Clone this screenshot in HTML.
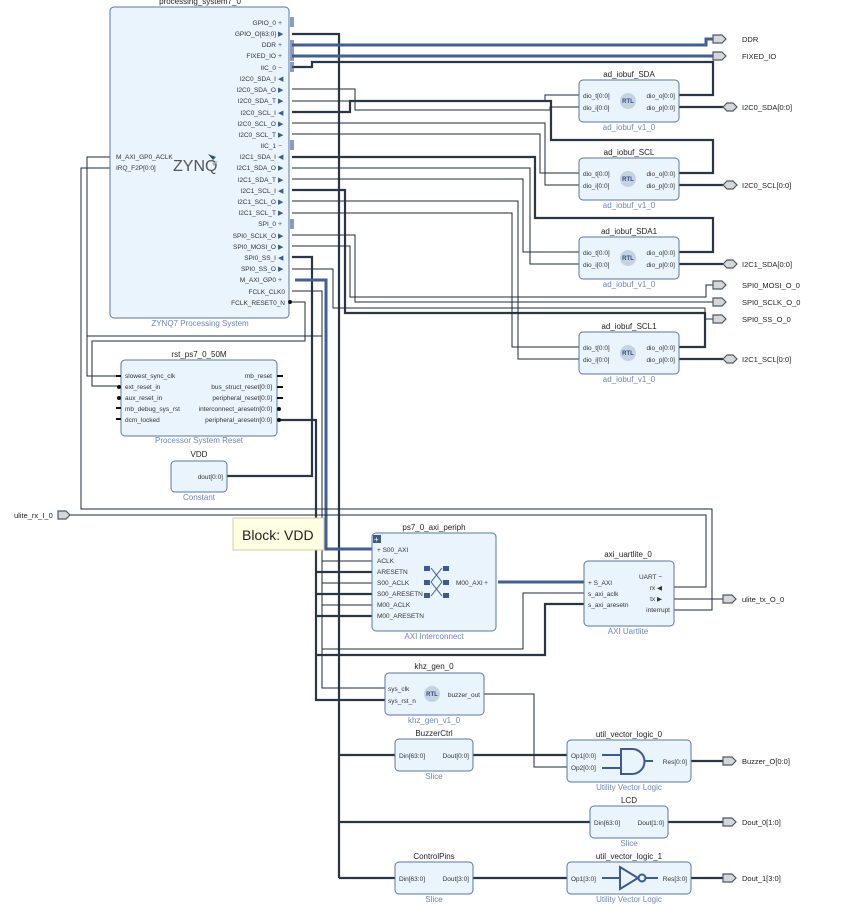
<!DOCTYPE html>
<html><head><meta charset="utf-8"><style>
html,body{margin:0;padding:0;background:#fff;}
svg{display:block;font-family:"Liberation Sans",sans-serif;}
.b{fill:#eaf4fd;stroke:#5877a6;stroke-width:1;}
.p{font-size:6.5px;fill:#333;}
.t{font-size:8px;fill:#222;text-anchor:middle;}
.c{font-size:8px;fill:#6b86b8;text-anchor:middle;}
.w{fill:none;stroke:#1f2b3a;stroke-width:1;}
.W{fill:none;stroke:#2a3545;stroke-width:2.2;}
.B{fill:none;stroke:#3f5f96;stroke-width:3;}
.g{fill:#3d5a98;font-size:7px;}
.o{fill:#d6d6d6;stroke:#4a5a6a;stroke-width:1.2;}
.ol{font-size:7.5px;fill:#222;}
</style></head><body>
<svg width="846" height="906" viewBox="0 0 846 906" xmlns="http://www.w3.org/2000/svg">
<g>
<polyline class="W" points="292,34 339,34 339,878"/>
<polyline class="B" points="292,45 706,45 706,39 713,39"/>
<polyline class="B" points="292,56 713,56"/>
<polyline class="W" points="292,67 312,67 312,62 713,62 713,95 679,95"/>
<polyline class="w" points="292,89 355,89 355,110 550,110 550,107 579,107"/>
<polyline class="w" points="292,101 545,101 545,95 579,95"/>
<polyline class="W" points="292,112 350,112 350,101 551,101 551,140 713,140 713,173 679,173"/>
<polyline class="w" points="292,123 545,123 545,185 579,185"/>
<polyline class="w" points="292,134 540,134 540,173 579,173"/>
<polyline class="W" points="292,157 535,157 535,218 713,218 713,252 679,252"/>
<polyline class="w" points="292,168 530,168 530,264 579,264"/>
<polyline class="w" points="292,179 523,179 523,252 579,252"/>
<polyline class="W" points="292,190 345,190 345,313 705,313 705,347 679,347"/>
<polyline class="w" points="292,201 518,201 518,359 579,359"/>
<polyline class="w" points="292,213 512,213 512,347 579,347"/>
<polyline class="w" points="292,235 355,235 355,302 713,302"/>
<polyline class="w" points="292,246 350,246 350,297 706,297 706,285 713,285"/>
<polyline class="W" points="292,257 312,257 312,476 227,476"/>
<polyline class="w" points="292,269 333,269 333,308 705,308 705,319 713,319"/>
<polyline class="B" points="295,280 326,280 326,549 372,549"/>
<polyline class="w" points="292,291 322,291 322,688 385,688"/>
<polyline class="w" points="292,302 305,302 305,341 92,341 92,386 121,386"/>
<polyline class="w" points="110,157 87,157 87,376 121,376"/>
<line class="w" x1="87" y1="336" x2="322" y2="336"/>
<polyline class="w" points="110,168 81,168 81,509 712,509 712,610 674,610"/>
<polyline class="w" points="70,515 706,515 706,587 674,587"/>
<line class="w" x1="674" y1="599" x2="723" y2="599"/>
<polyline class="W" points="279,420 316,420 316,700 385,700"/>
<line class="w" x1="322" y1="561" x2="372" y2="561"/>
<line class="w" x1="322" y1="583" x2="372" y2="583"/>
<line class="w" x1="322" y1="605" x2="372" y2="605"/>
<line class="W" x1="316" y1="572" x2="372" y2="572"/>
<line class="W" x1="316" y1="594" x2="372" y2="594"/>
<line class="W" x1="316" y1="616" x2="372" y2="616"/>
<polyline class="w" points="584,593 523,593 523,649 322,649"/>
<polyline class="W" points="584,604 545,604 545,655 316,655"/>
<line class="B" x1="498" y1="582" x2="584" y2="582"/>
<polyline class="w" points="484,694 534,694 534,767 567,767"/>
<line class="W" x1="339" y1="755" x2="395" y2="755"/>
<line class="W" x1="473" y1="755" x2="567" y2="755"/>
<line class="W" x1="339" y1="822" x2="590" y2="822"/>
<line class="W" x1="668" y1="822" x2="723" y2="822"/>
<line class="W" x1="339" y1="878" x2="395" y2="878"/>
<line class="W" x1="473" y1="878" x2="567" y2="878"/>
<line class="W" x1="691" y1="878" x2="723" y2="878"/>
<line class="W" x1="691" y1="761" x2="723" y2="761"/>
<line class="W" x1="679" y1="107" x2="723" y2="107"/>
<line class="W" x1="679" y1="185" x2="723" y2="185"/>
<line class="W" x1="679" y1="264" x2="723" y2="264"/>
<line class="W" x1="679" y1="359" x2="723" y2="359"/>
</g>
<text class="t" x="200" y="4">processing_system7_0</text>
<rect class="b" x="110" y="7" width="179" height="311" rx="4"/>
<text class="c" x="200" y="326">ZYNQ7 Processing System</text>
<text x="173" y="171" style="font-size:16px;fill:#555">ZYNQ</text>
<polygon points="208,154 216,157 213,160" fill="#1f5a70"/>
<polygon points="212,163 218,161 214,166" fill="#aaa"/>
<text class="p" x="116" y="159">M_AXI_GP0_ACLK</text>
<text class="p" x="116" y="170">IRQ_F2P[0:0]</text>
<g class="p" text-anchor="end">
<text x="276" y="25">GPIO_0</text><text x="276" y="36">GPIO_O[63:0]</text><text x="276" y="47">DDR</text><text x="276" y="58">FIXED_IO</text><text x="276" y="70">IIC_0</text><text x="276" y="81">I2C0_SDA_I</text><text x="276" y="92">I2C0_SDA_O</text><text x="276" y="103">I2C0_SDA_T</text><text x="276" y="115">I2C0_SCL_I</text><text x="276" y="126">I2C0_SCL_O</text><text x="276" y="137">I2C0_SCL_T</text><text x="276" y="148">IIC_1</text><text x="276" y="159">I2C1_SDA_I</text><text x="276" y="170">I2C1_SDA_O</text><text x="276" y="182">I2C1_SDA_T</text><text x="276" y="193">I2C1_SCL_I</text><text x="276" y="204">I2C1_SCL_O</text><text x="276" y="215">I2C1_SCL_T</text><text x="276" y="226">SPI_0</text><text x="276" y="238">SPI0_SCLK_O</text><text x="276" y="249">SPI0_MOSI_O</text><text x="276" y="260">SPI0_SS_I</text><text x="276" y="271">SPI0_SS_O</text><text x="276" y="282">M_AXI_GP0</text><text x="285" y="294">FCLK_CLK0</text><text x="285" y="305">FCLK_RESET0_N</text>
</g>
<g class="g">
<text x="278" y="25">+</text><text x="278" y="36">▶</text><text x="278" y="47">+</text><text x="278" y="58">+</text><text x="278" y="70">−</text><text x="278" y="81">◀</text><text x="278" y="92">▶</text><text x="278" y="103">▶</text><text x="278" y="115">◀</text><text x="278" y="126">▶</text><text x="278" y="137">▶</text><text x="278" y="148">−</text><text x="278" y="159">◀</text><text x="278" y="170">▶</text><text x="278" y="182">▶</text><text x="278" y="193">◀</text><text x="278" y="204">▶</text><text x="278" y="215">▶</text><text x="278" y="226">+</text><text x="278" y="238">▶</text><text x="278" y="249">▶</text><text x="278" y="260">◀</text><text x="278" y="271">▶</text><text x="278" y="282">+</text>
</g>
<g stroke="#3d5a98" stroke-width="1.2"><line x1="291" y1="17" x2="291" y2="27"/><line x1="293" y1="17" x2="293" y2="27"/><line x1="291" y1="40" x2="291" y2="61"/><line x1="293" y1="40" x2="293" y2="61"/><line x1="291" y1="62" x2="291" y2="72"/><line x1="293" y1="62" x2="293" y2="72"/><line x1="291" y1="140" x2="291" y2="150"/><line x1="293" y1="140" x2="293" y2="150"/><line x1="291" y1="219" x2="291" y2="229"/><line x1="293" y1="219" x2="293" y2="229"/></g>
<circle cx="290" cy="302" r="2" fill="#111"/>
<text class="t" x="199" y="357">rst_ps7_0_50M</text>
<rect class="b" x="121" y="360" width="156" height="76" rx="4"/>
<text class="c" x="199" y="443">Processor System Reset</text>
<g class="p"><text x="125" y="378">slowest_sync_clk</text><text x="125" y="389">ext_reset_in</text><text x="125" y="400">aux_reset_in</text><text x="125" y="411">mb_debug_sys_rst</text><text x="125" y="422">dcm_locked</text></g>
<g class="p" text-anchor="end"><text x="272" y="378">mb_reset</text><text x="272" y="389">bus_struct_reset[0:0]</text><text x="272" y="400">peripheral_reset[0:0]</text><text x="272" y="411">interconnect_aresetn[0:0]</text><text x="272" y="422">peripheral_aresetn[0:0]</text></g>
<g stroke="#111" stroke-width="2"><line x1="116" y1="376" x2="121" y2="376"/><line x1="116" y1="408" x2="121" y2="408"/><line x1="116" y1="419" x2="121" y2="419"/><line x1="277" y1="376" x2="283" y2="376"/><line x1="277" y1="387" x2="283" y2="387"/><line x1="277" y1="398" x2="283" y2="398"/></g>
<g fill="#111"><circle cx="119" cy="387" r="2"/><circle cx="119" cy="398" r="2"/><circle cx="279" cy="409" r="2"/><circle cx="279" cy="420" r="2"/></g>
<text class="t" x="199" y="457">VDD</text>
<rect class="b" x="171" y="461" width="56" height="31" rx="4"/>
<text class="p" x="223" y="479" text-anchor="end">dout[0:0]</text>
<text class="c" x="199" y="500">Constant</text>
<text class="ol" x="14" y="518">ulite_rx_I_0</text>
<polygon class="o" points="58,511 66,511 70,515 66,519 58,519"/>
<rect x="233" y="518" width="91" height="32" fill="#ffffe1" stroke="#cfcfb0"/>
<text x="242" y="540" style="font-size:14px;fill:#222">Block: VDD</text>
<text class="t" x="434" y="530">ps7_0_axi_periph</text>
<rect class="b" x="372" y="533" width="124" height="98" rx="4"/>
<rect x="373" y="535" width="8" height="8" fill="#3d5a98"/><text x="374" y="542" style="font-size:8px;fill:#fff">+</text>
<g class="p"><text x="377" y="552">+ S00_AXI</text><text x="377" y="563">ACLK</text><text x="377" y="574">ARESETN</text><text x="377" y="585">S00_ACLK</text><text x="377" y="596">S00_ARESETN</text><text x="377" y="607">M00_ACLK</text><text x="377" y="618">M00_ARESETN</text></g>
<text class="p" x="456" y="585">M00_AXI</text><text class="g" x="484" y="585">+</text>
<g fill="#3d5a98"><rect x="424" y="566" width="6" height="5"/><rect x="443" y="566" width="6" height="5"/><rect x="424" y="580" width="6" height="5"/><rect x="443" y="580" width="6" height="5"/><rect x="424" y="593" width="6" height="5"/><rect x="443" y="593" width="6" height="5"/></g>
<g stroke="#3d5a98" stroke-width="1"><line x1="431" y1="568" x2="442" y2="582"/><line x1="442" y1="568" x2="431" y2="582"/><line x1="431" y1="582" x2="442" y2="596"/><line x1="442" y1="582" x2="431" y2="596"/></g>
<text class="c" x="434" y="639">AXI Interconnect</text>
<text class="t" x="628" y="557">axi_uartlite_0</text>
<rect class="b" x="584" y="561" width="90" height="65" rx="4"/>
<g class="p"><text x="588" y="585">+ S_AXI</text><text x="588" y="596">s_axi_aclk</text><text x="588" y="607">s_axi_aresetn</text></g>
<g class="p" text-anchor="end"><text x="662" y="579">UART −</text><text x="662" y="590">rx ◀</text><text x="662" y="601">tx ▶</text><text x="670" y="612">interrupt</text></g>
<text class="c" x="628" y="634">AXI Uartlite</text>
<text class="ol" x="742" y="602">ulite_tx_O_0</text>
<polygon class="o" points="723,595 732,595 736,599 732,603 723,603"/>
<text class="t" x="434" y="669">khz_gen_0</text>
<rect class="b" x="385" y="673" width="99" height="42" rx="4"/>
<g class="p"><text x="388" y="691">sys_clk</text><text x="388" y="703">sys_rst_n</text></g>
<text class="p" x="480" y="697" text-anchor="end">buzzer_out</text>
<circle cx="432" cy="694" r="8" fill="#c5d3e0"/><text x="432" y="696" text-anchor="middle" style="font-size:6px;font-weight:bold;fill:#2a4a8a">RTL</text>
<text class="c" x="434" y="723">khz_gen_v1_0</text>
<text class="t" x="434" y="736">BuzzerCtrl</text>
<rect class="b" x="395" y="739" width="78" height="32" rx="4"/>
<text class="p" x="399" y="758">Din[63:0]</text><text class="p" x="469" y="758" text-anchor="end">Dout[0:0]</text>
<text class="c" x="434" y="779">Slice</text>
<text class="t" x="629" y="737">util_vector_logic_0</text>
<rect class="b" x="567" y="740" width="124" height="42" rx="4"/>
<text class="p" x="571" y="758">Op1[0:0]</text><text class="p" x="571" y="770">Op2[0:0]</text><text class="p" x="687" y="764" text-anchor="end">Res[0:0]</text>
<path d="M602,755 H620 M602,768 H620 M621,749 H632 A12,12 0 0 1 632,774 H621 Z M644,761 H653" fill="none" stroke="#3d5a98" stroke-width="2"/>
<text class="c" x="629" y="790">Utility Vector Logic</text>
<text class="ol" x="742" y="764">Buzzer_O[0:0]</text>
<polygon class="o" points="723,757 732,757 736,761 732,765 723,765"/>
<text class="t" x="629" y="803">LCD</text>
<rect class="b" x="590" y="806" width="78" height="32" rx="4"/>
<text class="p" x="594" y="825">Din[63:0]</text><text class="p" x="664" y="825" text-anchor="end">Dout[1:0]</text>
<text class="c" x="629" y="846">Slice</text>
<text class="ol" x="742" y="825">Dout_0[1:0]</text>
<polygon class="o" points="723,818 732,818 736,822 732,826 723,826"/>
<text class="t" x="434" y="859">ControlPins</text>
<rect class="b" x="395" y="862" width="78" height="32" rx="4"/>
<text class="p" x="399" y="881">Din[63:0]</text><text class="p" x="469" y="881" text-anchor="end">Dout[3:0]</text>
<text class="c" x="434" y="902">Slice</text>
<text class="t" x="629" y="859">util_vector_logic_1</text>
<rect class="b" x="567" y="862" width="124" height="32" rx="4"/>
<text class="p" x="571" y="881">Op1[3:0]</text><text class="p" x="687" y="881" text-anchor="end">Res[3:0]</text>
<path d="M602,878 H620 M620,867 V889 L638,878 Z M646,878 H658" fill="none" stroke="#3d5a98" stroke-width="2"/>
<circle cx="642" cy="878" r="3.5" fill="none" stroke="#3d5a98" stroke-width="2"/>
<text class="c" x="629" y="902">Utility Vector Logic</text>
<text class="ol" x="742" y="881">Dout_1[3:0]</text>
<polygon class="o" points="723,874 732,874 736,878 732,882 723,882"/>
<text class="t" x="629" y="77">ad_iobuf_SDA</text>
<rect class="b" x="579" y="80" width="100" height="42" rx="4"/>
<text class="c" x="629" y="130">ad_iobuf_v1_0</text>
<text class="t" x="629" y="155">ad_iobuf_SCL</text>
<rect class="b" x="579" y="158" width="100" height="42" rx="4"/>
<text class="c" x="629" y="208">ad_iobuf_v1_0</text>
<text class="t" x="629" y="234">ad_iobuf_SDA1</text>
<rect class="b" x="579" y="237" width="100" height="42" rx="4"/>
<text class="c" x="629" y="287">ad_iobuf_v1_0</text>
<text class="t" x="629" y="329">ad_iobuf_SCL1</text>
<rect class="b" x="579" y="332" width="100" height="42" rx="4"/>
<text class="c" x="629" y="382">ad_iobuf_v1_0</text>
<g class="p">
<text x="583" y="98">dio_t[0:0]</text><text x="583" y="110">dio_i[0:0]</text>
<text x="583" y="176">dio_t[0:0]</text><text x="583" y="188">dio_i[0:0]</text>
<text x="583" y="255">dio_t[0:0]</text><text x="583" y="267">dio_i[0:0]</text>
<text x="583" y="350">dio_t[0:0]</text><text x="583" y="362">dio_i[0:0]</text>
</g>
<g class="p" text-anchor="end">
<text x="675" y="98">dio_o[0:0]</text><text x="675" y="110">dio_p[0:0]</text>
<text x="675" y="176">dio_o[0:0]</text><text x="675" y="188">dio_p[0:0]</text>
<text x="675" y="255">dio_o[0:0]</text><text x="675" y="267">dio_p[0:0]</text>
<text x="675" y="350">dio_o[0:0]</text><text x="675" y="362">dio_p[0:0]</text>
</g>
<g fill="#c5d3e0"><circle cx="628" cy="101" r="8"/><circle cx="628" cy="179" r="8"/><circle cx="628" cy="258" r="8"/><circle cx="628" cy="353" r="8"/></g>
<g text-anchor="middle" style="font-size:6px;font-weight:bold;fill:#2a4a8a"><text x="628" y="103">RTL</text><text x="628" y="181">RTL</text><text x="628" y="260">RTL</text><text x="628" y="355">RTL</text></g>
<g>
<polygon class="o" points="713,35 722,35 726,39 722,43 713,43"/>
<polygon class="o" points="713,52 722,52 726,56 722,60 713,60"/>
<polygon class="o" points="723,107 727,103 733,103 737,107 733,111 727,111"/>
<polygon class="o" points="723,185 727,181 733,181 737,185 733,189 727,189"/>
<polygon class="o" points="723,264 727,260 733,260 737,264 733,268 727,268"/>
<polygon class="o" points="723,359 727,355 733,355 737,359 733,363 727,363"/>
<polygon class="o" points="713,281 722,281 726,285 722,289 713,289"/>
<polygon class="o" points="713,298 722,298 726,302 722,306 713,306"/>
<polygon class="o" points="713,315 722,315 726,319 722,323 713,323"/>
</g>
<g class="ol">
<text x="742" y="42">DDR</text><text x="742" y="59">FIXED_IO</text>
<text x="742" y="110">I2C0_SDA[0:0]</text><text x="742" y="188">I2C0_SCL[0:0]</text>
<text x="742" y="267">I2C1_SDA[0:0]</text><text x="742" y="362">I2C1_SCL[0:0]</text>
<text x="742" y="288">SPI0_MOSI_O_0</text><text x="742" y="305">SPI0_SCLK_O_0</text><text x="742" y="322">SPI0_SS_O_0</text>
</g>
</svg>
</body></html>
